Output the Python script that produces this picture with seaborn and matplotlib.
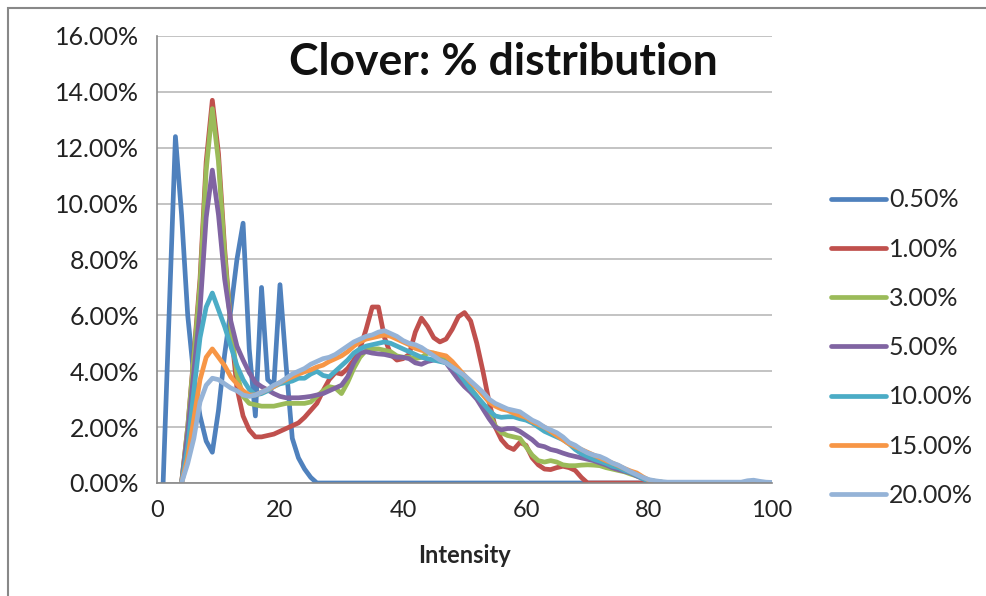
import numpy as np
import pandas as pd
import matplotlib
matplotlib.use("Agg")
import matplotlib.pyplot as plt
import matplotlib.ticker as mticker
from matplotlib.patches import Rectangle
import seaborn as sns

# series labels and colours
LABELS = ["0.50%", "1.00%", "3.00%", "5.00%", "10.00%", "15.00%", "20.00%"]
COLORS = ["#4F81BD", "#C0504D", "#9BBB59", "#8064A2", "#4BACC6", "#F79646", "#95B3D7"]

# % distribution per intensity
blue_x0 = 1
blue = [0, 6.2, 12.4, 9.6, 6.0, 3.8, 2.4, 1.5, 1.1, 2.6,
        4.6, 6.2, 8.0, 9.3, 4.8, 2.4, 7.0, 3.7, 3.5, 7.1,
        4.2, 1.6, 0.9, 0.5, 0.2] + [0] * 75

others_x0 = 4
red = [0, 2.0, 4.6, 7.3, 11.5, 13.7, 11.8, 8.4, 5.6, 3.4,
       2.4, 1.9, 1.65, 1.65, 1.7, 1.75, 1.85, 1.95, 2.05, 2.15,
       2.35, 2.6, 2.85, 3.3, 3.7, 3.95, 3.9, 4.1, 4.4, 4.8,
       5.5, 6.3, 6.3, 5.2, 4.6, 4.4, 4.45, 4.6, 5.4, 5.9,
       5.6, 5.2, 5.05, 5.15, 5.5, 5.95, 6.1, 5.8, 5.0, 4.0,
       2.9, 2.0, 1.55, 1.3, 1.2, 1.45, 1.35, 0.9, 0.65, 0.5,
       0.48, 0.55, 0.6, 0.55, 0.45, 0.2] + [0] * 31
green = [0, 2.0, 4.5, 7.1, 11.2, 13.4, 11.5, 8.2, 5.6, 3.9,
         3.1, 2.85, 2.8, 2.75, 2.75, 2.75, 2.8, 2.85, 2.85, 2.85,
         2.85, 2.9, 3.1, 3.3, 3.45, 3.4, 3.2, 3.6, 4.1, 4.5,
         4.75, 4.8, 4.8, 4.75, 4.7, 4.55, 4.5, 4.5, 4.45, 4.5,
         4.65, 4.65, 4.55, 4.45, 4.2, 3.95, 3.65, 3.4, 3.1, 2.8,
         2.45, 2.05, 1.8, 1.7, 1.65, 1.6, 1.3, 1.0, 0.8, 0.75,
         0.8, 0.75, 0.65, 0.62, 0.62, 0.64, 0.65, 0.64, 0.62, 0.55,
         0.5, 0.45, 0.4, 0.32, 0.25, 0.18, 0.1, 0.06, 0.03] + [0] * 18
purple = [0, 1.8, 4.0, 6.2, 9.5, 11.2, 9.6, 7.3, 5.8, 4.9,
          4.4, 3.95, 3.6, 3.45, 3.33, 3.2, 3.1, 3.05, 3.05, 3.05,
          3.07, 3.1, 3.15, 3.2, 3.3, 3.4, 3.5, 3.8, 4.3, 4.65,
          4.7, 4.65, 4.62, 4.6, 4.55, 4.5, 4.5, 4.45, 4.3, 4.25,
          4.35, 4.4, 4.4, 4.3, 4.0, 3.7, 3.45, 3.25, 3.0, 2.65,
          2.3, 2.0, 1.9, 1.95, 1.95, 1.85, 1.7, 1.55, 1.35, 1.3,
          1.2, 1.15, 1.07, 1.0, 0.95, 0.9, 0.85, 0.8, 0.72, 0.65,
          0.55, 0.48, 0.42, 0.36, 0.25, 0.15, 0.08, 0.04, 0.02] + [0] * 18
teal = [0, 1.3, 3.3, 5.2, 6.3, 6.8, 6.2, 5.6, 4.9, 4.2,
        3.7, 3.35, 3.15, 3.2, 3.3, 3.45, 3.55, 3.6, 3.65, 3.75,
        3.75, 3.9, 4.0, 3.85, 3.8, 4.0, 4.2, 4.4, 4.65, 4.8,
        4.9, 4.95, 5.0, 5.05, 5.0, 4.9, 4.8, 4.7, 4.6, 4.5,
        4.45, 4.4, 4.35, 4.3, 4.15, 3.95, 3.65, 3.35, 3.1, 2.85,
        2.6, 2.4, 2.35, 2.37, 2.37, 2.3, 2.25, 2.15, 2.0, 1.85,
        1.75, 1.65, 1.55, 1.4, 1.2, 1.05, 0.95, 0.85, 0.78, 0.7,
        0.6, 0.55, 0.45, 0.38, 0.28, 0.15, 0.08, 0.05, 0.03] + [0] * 18
orange = [0, 0.9, 2.3, 3.7, 4.5, 4.8, 4.5, 4.2, 3.8, 3.55,
          3.3, 3.15, 3.15, 3.25, 3.35, 3.45, 3.6, 3.7, 3.8, 3.9,
          3.98, 4.05, 4.15, 4.22, 4.35, 4.45, 4.55, 4.7, 4.9, 5.05,
          5.15, 5.2, 5.25, 5.3, 5.25, 5.15, 5.05, 4.95, 4.82, 4.75,
          4.7, 4.65, 4.6, 4.55, 4.35, 4.1, 3.85, 3.6, 3.4, 3.15,
          2.9, 2.75, 2.65, 2.6, 2.5, 2.42, 2.35, 2.2, 2.1, 2.0,
          1.85, 1.7, 1.55, 1.4, 1.3, 1.2, 1.1, 1.0, 0.9, 0.8,
          0.72, 0.62, 0.52, 0.43, 0.36, 0.22, 0.1, 0.06, 0.03] + [0] * 18
light = [0, 0.7, 1.6, 2.9, 3.5, 3.75, 3.7, 3.55, 3.4, 3.3,
         3.15, 3.1, 3.15, 3.25, 3.35, 3.5, 3.6, 3.75, 3.9, 4.0,
         4.1, 4.25, 4.35, 4.45, 4.5, 4.6, 4.75, 4.9, 5.05, 5.15,
         5.25, 5.3, 5.4, 5.45, 5.35, 5.25, 5.1, 5.0, 4.95, 4.85,
         4.7, 4.55, 4.4, 4.3, 4.15, 4.0, 3.85, 3.65, 3.45, 3.25,
         3.0, 2.85, 2.75, 2.65, 2.6, 2.55, 2.4, 2.25, 2.15, 2.0,
         1.9, 1.8, 1.65, 1.45, 1.35, 1.2, 1.08, 1.0, 0.95, 0.85,
         0.72, 0.64, 0.52, 0.4, 0.3, 0.2, 0.12, 0.08, 0.05, 0.03,
         0.03, 0.03, 0.03, 0.03, 0.03, 0.03, 0.03, 0.03, 0.03, 0.03,
         0.03, 0.03, 0.08, 0.1, 0.06, 0.03, 0.02]

series = [blue, red, green, purple, teal, orange, light]
starts = [blue_x0] + [others_x0] * 6

frames = []
for lab, vals, x0 in zip(LABELS, series, starts):
    frames.append(pd.DataFrame({"intensity": np.arange(x0, x0 + len(vals)),
                                "pct": vals, "conc": lab}))
df = pd.concat(frames, ignore_index=True)

sns.set_style("white")
plt.rcParams["font.family"] = ["Lato", "DejaVu Sans"]

fig = plt.figure(figsize=(9.86, 5.96), dpi=100)
ax = fig.add_axes([0.1592, 0.1896, 0.6238, 0.75])

for lab, col in zip(LABELS, COLORS):
    sns.lineplot(data=df[df["conc"] == lab], x="intensity", y="pct",
                 color=col, lw=3.4, label=lab, ax=ax, sort=False,
                 estimator=None, solid_joinstyle="round", solid_capstyle="round")

ax.set_xlim(0, 100)
ax.set_ylim(0, 16)
ax.set_xticks(np.arange(0, 101, 20))
ax.set_yticks(np.arange(0, 16.1, 2))
ax.yaxis.set_major_formatter(mticker.PercentFormatter(xmax=100, decimals=2))
ax.grid(axis="y", color="#BEBEBE", lw=1.3)
ax.set_axisbelow(True)
for s in ["top", "right"]:
    ax.spines[s].set_visible(False)
for s in ["left", "bottom"]:
    ax.spines[s].set_color("#888888")
    ax.spines[s].set_linewidth(1.2)
ax.tick_params(axis="both", labelsize=17, colors="#888888", labelcolor="#222222",
               length=5, width=1.2, direction="out")
ax.tick_params(axis="y", labelsize=18, pad=8)
ax.tick_params(axis="x", pad=7)
ax.set_ylabel("")
ax.set_xlabel("Intensity", fontsize=17, fontweight="bold", labelpad=17)

ax.legend(loc="center left", bbox_to_anchor=(1.06, 0.303), frameon=False,
          fontsize=18, handlelength=2.2, handletextpad=0.1, labelspacing=1.05)

fig.text(503 / 986, 1 - 62 / 596, "Clover: % distribution", fontsize=32,
         fontweight="bold", ha="center", va="center", color="#111111")

# outer chart border
fig.patches.append(Rectangle((8 / 986, -0.1), 1.2, 1 - 8 / 596 + 0.1,
                             transform=fig.transFigure, fill=False,
                             edgecolor="#888888", lw=1.5))

fig.savefig("out.png", dpi=100)
